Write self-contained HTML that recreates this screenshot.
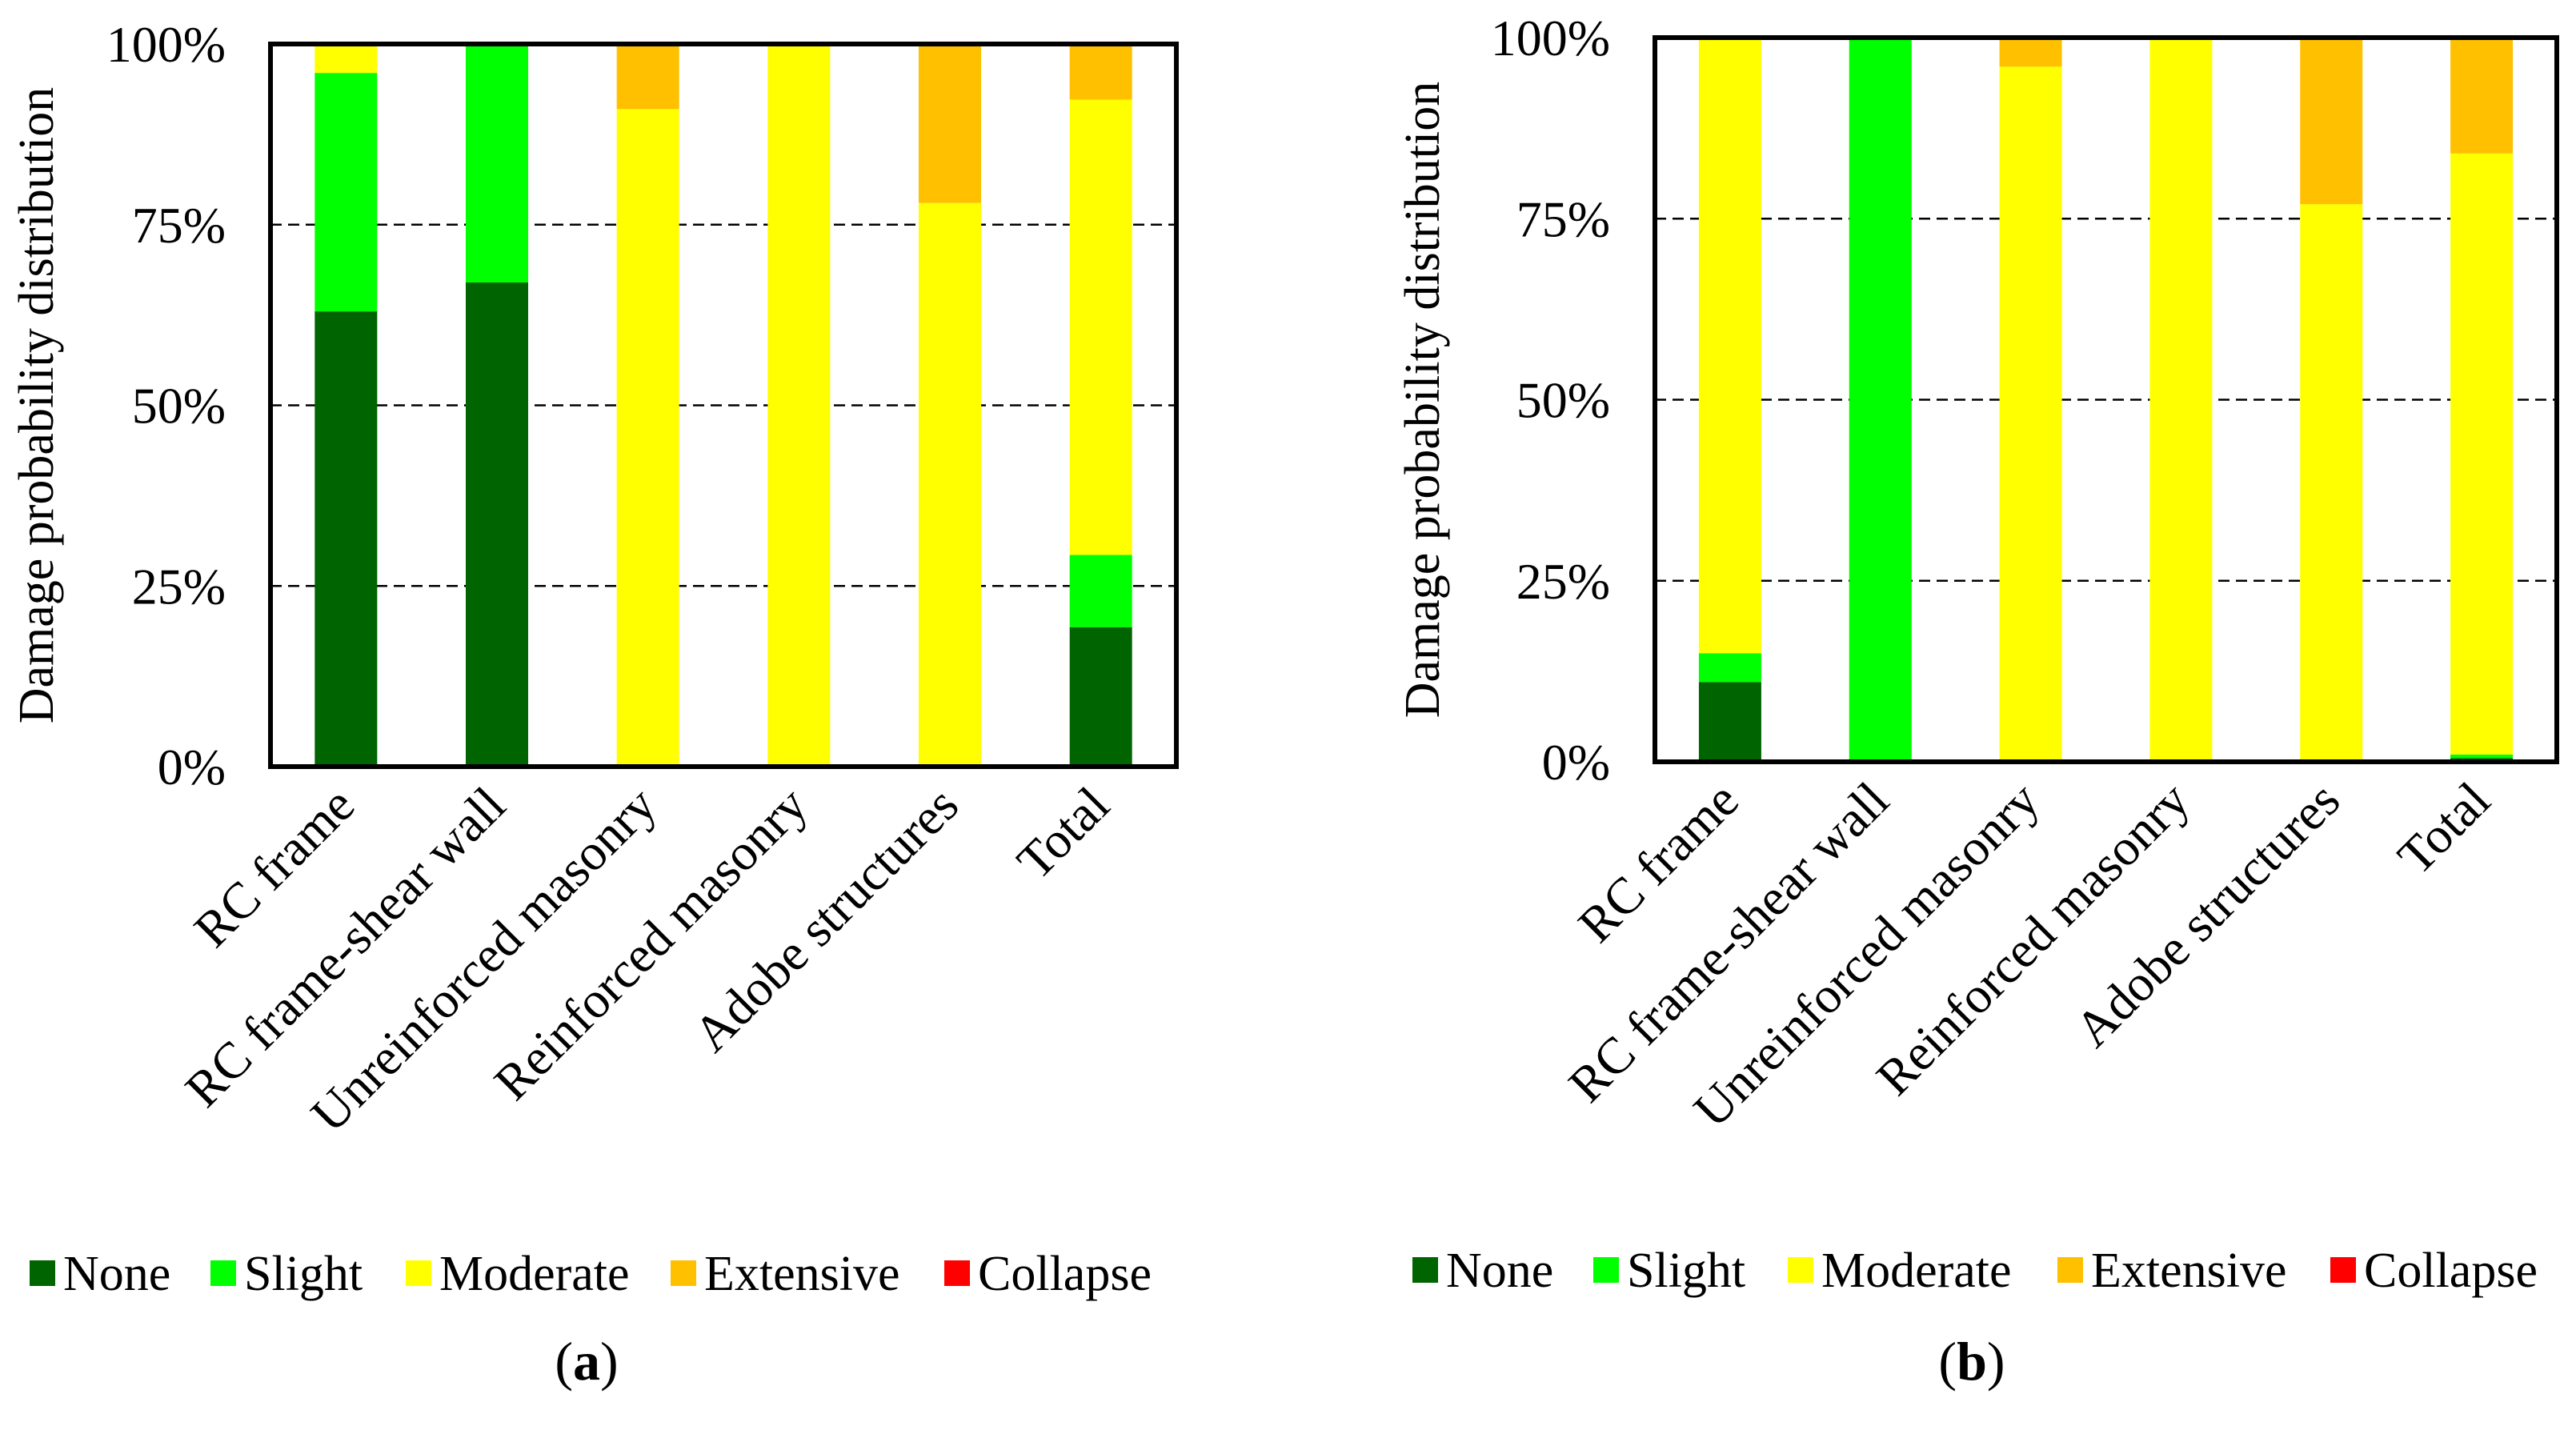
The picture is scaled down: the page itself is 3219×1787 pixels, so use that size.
<!DOCTYPE html>
<html><head><meta charset="utf-8"><style>
html,body{margin:0;padding:0;background:#fff;}
svg, svg text{font-family:"Liberation Serif","DejaVu Serif","Times New Roman",serif;}
</style></head><body>
<svg id="fig" width="3219" height="1782" viewBox="0 0 3219 1782" xmlns="http://www.w3.org/2000/svg"></svg>
<script>
const categories = ["RC frame","RC frame-shear wall","Unreinforced masonry","Reinforced masonry","Adobe structures","Total"];
const seriesNames = ["None","Slight","Moderate","Extensive","Collapse"];
const seriesColors = ["#006400","#00FF00","#FFFF00","#FFC000","#FF0000"];
const tickValues = [0,25,50,75,100];
const tickLabels = ["0%","25%","50%","75%","100%"];
// Panel (a) values (%)
const aNone      = [63, 67, 0, 0, 0, 19.3];
const aSlight    = [33, 33, 0, 0, 0, 10];
const aModerate  = [4, 0, 91, 100, 78, 63];
const aExtensive = [0, 0, 9, 0, 22, 7.7];
const aCollapse  = [0, 0, 0, 0, 0, 0];
// Panel (b) values (%)
const bNone      = [11, 0, 0, 0, 0, 0.5];
const bSlight    = [4, 100, 0, 0, 0, 0.5];
const bModerate  = [85, 0, 96, 100, 77, 83];
const bExtensive = [0, 0, 4, 0, 23, 16];
const bCollapse  = [0, 0, 0, 0, 0, 0];

const NS="http://www.w3.org/2000/svg";
const svg=document.getElementById('fig');
function mk(tag,attrs,parent){const e=document.createElementNS(NS,tag);for(const k in attrs)e.setAttribute(k,attrs[k]);(parent||svg).appendChild(e);return e;}

function drawPanel(id,L,R,T,B,series,tickX,titleX,legendXs,legendY,capX,capLabel){
  const g=mk('g',{});
  
  
  const y=v=>B-(v/100)*(B-T);
  const step=(R-L)/categories.length;
  const bw=78;
  tickValues.forEach((v,i)=>{
    if(v>0&&v<100){const gl=mk('line',{x1:L,x2:R,y1:y(v),y2:y(v),stroke:'#000','stroke-width':2.5,'stroke-dasharray':'14 8'},g);
      
      }
    const t=mk('text',{x:tickX,y:y(v)+22,'text-anchor':'end','font-size':64,fill:'#000'},g);
    t.textContent=tickLabels[i];
    
    
  });
  categories.forEach((c,i)=>{
    const cx=L+step*(i+0.5);
    let acc=0;
    series.forEach((s,k)=>{
      const v=s[i]; if(v<=0)return;
      const r=mk('rect',{x:cx-bw/2,y:y(acc+v),width:bw,height:y(acc)-y(acc+v),fill:seriesColors[k]},g);
      
      
      acc+=v;
    });
    const tx=cx+14, ty=B+52;
    const t=mk('text',{x:tx,y:ty,'text-anchor':'end','font-size':64,transform:`rotate(-45 ${tx} ${ty})`},g);
    t.textContent=c;
    
    
  });
  const box=mk('rect',{x:L,y:T,width:R-L,height:B-T,fill:'none',stroke:'#000','stroke-width':6},g);
  
  
  const cy=(T+B)/2;
  const yt=mk('text',{x:titleX,y:cy,'text-anchor':'middle','font-size':62,transform:`rotate(-90 ${titleX} ${cy})`},g);
  yt.textContent='Damage probability distribution';
  
  
  seriesNames.forEach((n,k)=>{
    const lg=mk('g',{},g);
    
    
    mk('rect',{x:legendXs[k],y:legendY-16,width:32,height:32,fill:seriesColors[k]},lg);
    const t=mk('text',{x:legendXs[k]+42,y:legendY+21,'font-size':62},lg);
    t.textContent=n;
  });
  const cap=mk('text',{x:capX,y:1724,'text-anchor':'middle','font-size':68},g);
  cap.innerHTML='(<tspan font-weight="bold">'+capLabel+'</tspan>)';
  
  
}
drawPanel('a',338,1470,55,958,[aNone,aSlight,aModerate,aExtensive,aCollapse],282,66,
  [37,263,507,838,1180],1591,733,'a');
drawPanel('b',2068,3195,47,952,[bNone,bSlight,bModerate,bExtensive,bCollapse],2012,1798,
  [1765,1991,2234,2571,2912],1587,2464,'b');
</script>
</body></html>
